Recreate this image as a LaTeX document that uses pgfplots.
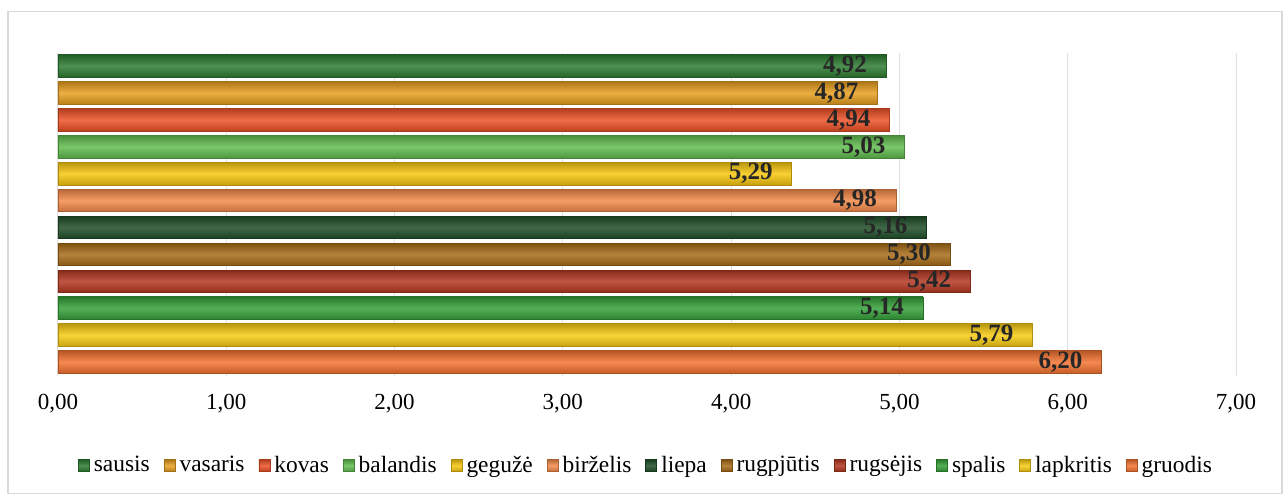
\documentclass[border=0pt]{standalone}
\usepackage{pgfplots}
\pgfplotsset{compat=1.18}
\usepackage{fontspec}
\setmainfont{Liberation Serif}

\definecolor{cSau}{HTML}{2E7D32}
\definecolor{cVas}{HTML}{E8A020}
\definecolor{cKov}{HTML}{EE5228}
\definecolor{cBal}{HTML}{62BE50}
\definecolor{cGeg}{HTML}{F8C810}
\definecolor{cBir}{HTML}{F58A4A}
\definecolor{cLie}{HTML}{1F4F28}
\definecolor{cRgp}{HTML}{A86C18}
\definecolor{cRgs}{HTML}{B43822}
\definecolor{cSpa}{HTML}{36A23A}
\definecolor{cLap}{HTML}{F8CC14}
\definecolor{cGru}{HTML}{F47432}

\pgfplotsset{
  mbar/.style={fill=#1, draw=#1!70!black, line width=0.4pt,
    top color=#1!75!black, bottom color=#1!80!black, middle color=#1!85!white},
}

\begin{document}
\begin{tikzpicture}
  \begin{axis}[
    at={(0,0)}, anchor=south west,
    scale only axis, width=589pt, height=161.5pt,
    xbar, bar width=11.3pt,
    every axis plot/.append style={bar shift=0pt},
    xmin=0, xmax=7, xtick={0,1,...,7},
    ymin=0.5, ymax=12.5, y dir=reverse, ytick=\empty,
    axis line style={draw=none}, tick style={draw=none},
    xmajorgrids, grid style={black!12, line width=0.5pt},
    xticklabel style={font=\fontsize{11.5pt}{13pt}\selectfont, yshift=-6pt},
    xticklabels={{0,00},{1,00},{2,00},{3,00},{4,00},{5,00},{6,00},{7,00}},
    nodes near coords, point meta=explicit symbolic,
    every node near coord/.append style={font=\bfseries\fontsize{12.5pt}{14pt}\selectfont,
      anchor=east, xshift=-6pt, text=black!85},
    legend columns=12,
    legend style={draw=none, fill=none, at={(0.5,-45pt)}, anchor=center,
      font=\fontsize{11.7pt}{13pt}\selectfont,
      /tikz/every even column/.append style={column sep=5pt}},
    legend image code/.code={\fill[#1] (0pt,-3pt) rectangle (5.5pt,3pt);},
  ]
  \addplot[mbar=cSau] coordinates {(4.92,1) [4,92]};
  \addlegendentry{sausis}
  \addplot[mbar=cVas] coordinates {(4.87,2) [4,87]};
  \addlegendentry{vasaris}
  \addplot[mbar=cKov] coordinates {(4.94,3) [4,94]};
  \addlegendentry{kovas}
  \addplot[mbar=cBal] coordinates {(5.03,4) [5,03]};
  \addlegendentry{balandis}
  \addplot[mbar=cGeg] coordinates {(4.36,5) [5,29]};
  \addlegendentry{gegužė}
  \addplot[mbar=cBir] coordinates {(4.98,6) [4,98]};
  \addlegendentry{birželis}
  \addplot[mbar=cLie] coordinates {(5.16,7) [5,16]};
  \addlegendentry{liepa}
  \addplot[mbar=cRgp] coordinates {(5.30,8) [5,30]};
  \addlegendentry{rugpjūtis}
  \addplot[mbar=cRgs] coordinates {(5.42,9) [5,42]};
  \addlegendentry{rugsėjis}
  \addplot[mbar=cSpa] coordinates {(5.14,10) [5,14]};
  \addlegendentry{spalis}
  \addplot[mbar=cLap] coordinates {(5.79,11) [5,79]};
  \addlegendentry{lapkritis}
  \addplot[mbar=cGru] coordinates {(6.20,12) [6,20]};
  \addlegendentry{gruodis}
  \end{axis}
  \draw[black!15, line width=0.6pt] (-25pt,-59pt) rectangle (612pt,182pt);
  \path (-29pt,-61.75pt) rectangle (615pt,187.75pt);
\end{tikzpicture}
\end{document}
